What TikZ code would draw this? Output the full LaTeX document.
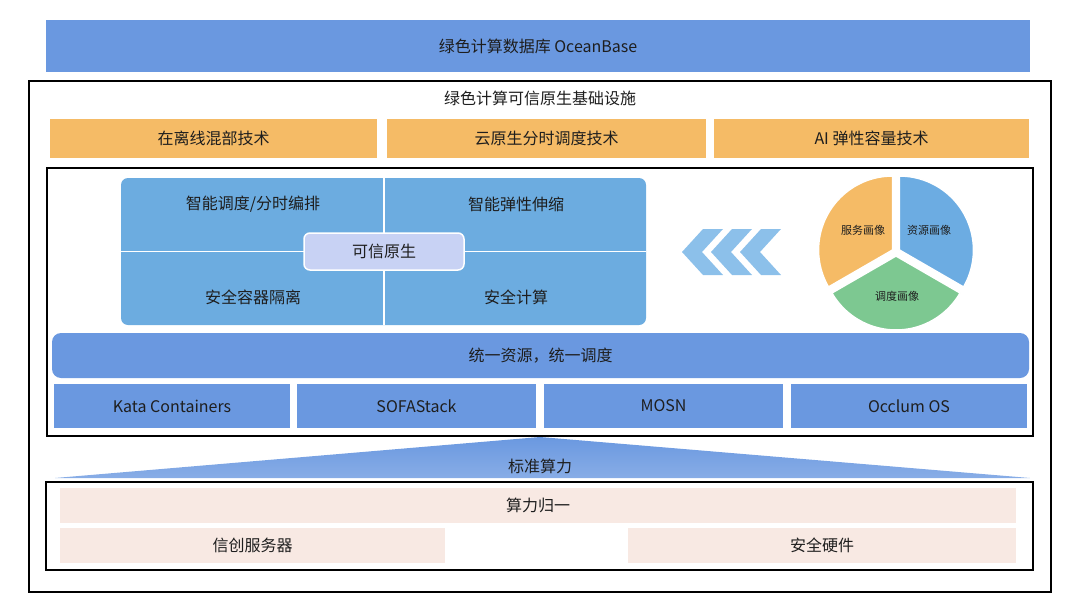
\documentclass[tikz,border=0pt]{standalone}
\usepackage{fontspec}
\setmainfont{Noto Sans CJK SC}
\usetikzlibrary{calc}
\definecolor{obblue}{RGB}{106,152,224}
\definecolor{orng}{RGB}{245,187,102}
\definecolor{gridblue}{RGB}{108,172,224}
\definecolor{lav}{RGB}{200,210,244}
\definecolor{chev}{RGB}{140,192,234}
\definecolor{piebl}{RGB}{108,172,226}
\definecolor{piegr}{RGB}{125,200,145}
\definecolor{pinkbg}{RGB}{248,233,227}
\definecolor{txt}{RGB}{30,30,30}
\tikzset{
  lbl/.style={font=\fontsize{16}{18}\selectfont, text=txt, inner sep=0pt},
  bluebox/.style={lbl, fill=obblue},
  orangebox/.style={lbl, fill=orng},
  pinkbox/.style={lbl, fill=pinkbg},
  frame/.style={draw=black, line width=1.3pt, inner sep=0pt},
  pielbl/.style={font=\fontsize{11}{13}\selectfont, text=txt, inner sep=0pt},
  slice/.style={draw=white, line width=1.5pt, line join=round},
}
\begin{document}
\begin{tikzpicture}[x=1pt,y=1pt]
\useasboundingbox (0,0) rectangle (1080,-616);
% top bar
\node[bluebox, minimum width=984pt, minimum height=52pt] (ob) at (538,-46) {绿色计算数据库 OceanBase};
% outer frame
\node[frame, minimum width=1022pt, minimum height=511pt] (outer) at (540,-336.5) {};
\node[lbl] (title) at (540,-98) {绿色计算可信原生基础设施};
% orange row
\node[orangebox, minimum width=327pt, minimum height=39pt] (o1) at (213.5,-138.5) {在离线混部技术};
\node[orangebox, minimum width=319pt, minimum height=39pt] (o2) at (546.5,-138.5) {云原生分时调度技术};
\node[orangebox, minimum width=315pt, minimum height=39pt] (o3) at (871.5,-138.5) {AI 弹性容量技术};
% inner frame
\node[frame, minimum width=986pt, minimum height=268pt] (inner) at (540,-302) {};
% grid
\node[fill=gridblue, rounded corners=7pt, minimum width=525pt, minimum height=147pt, inner sep=0pt] (grid) at (383.5,-251.5) {};
\draw[white, line width=1.5pt] (grid.west) -- (grid.east);
\draw[white, line width=1.5pt] ($(grid.north)+(0.5,0)$) -- ($(grid.south)+(0.5,0)$);
\node[lbl] (q1) at (253,-204) {智能调度/分时编排};
\node[lbl] (q2) at (516,-204) {智能弹性伸缩};
\node[lbl] (q3) at (253,-297) {安全容器隔离};
\node[lbl] (q4) at (516,-297) {安全计算};
\node[lbl, fill=lav, draw=white, line width=1.5pt, rounded corners=6pt, minimum width=160pt, minimum height=37pt] (kx) at (384,-251.5) {可信原生};
% chevrons
\foreach \x in {682,711,740}
  \fill[chev] (\x,-252) -- (\x+21,-229) -- (\x+41,-229) -- (\x+20,-252) -- (\x+41,-275) -- (\x+21,-275) -- cycle;
% pie
\coordinate (pc) at (896,-252);
\coordinate (co) at ($(pc)+(150:4pt)$);
\coordinate (cb) at ($(pc)+(30:4pt)$);
\coordinate (cg) at ($(pc)+(270:4pt)$);
\filldraw[slice, fill=orng] (co) -- ++(90:74pt) arc[start angle=90, end angle=210, radius=74pt] -- cycle;
\filldraw[slice, fill=piebl] (cb) -- ++(-30:74pt) arc[start angle=-30, end angle=90, radius=74pt] -- cycle;
\filldraw[slice, fill=piegr] (cg) -- ++(210:74pt) arc[start angle=210, end angle=330, radius=74pt] -- cycle;
\node[pielbl] (p1) at (863,-230) {服务画像};
\node[pielbl] (p2) at (929,-230) {资源画像};
\node[pielbl] (p3) at (897,-296) {调度画像};
% unified bar
\node[bluebox, rounded corners=9pt, minimum width=977pt, minimum height=45pt] (uni) at (540.5,-355.5) {统一资源，统一调度};
% four boxes
\node[bluebox, minimum width=236pt, minimum height=44pt] (k1) at (172,-406) {Kata Containers};
\node[bluebox, minimum width=239pt, minimum height=44pt] (k2) at (416.5,-406) {SOFAStack};
\node[bluebox, minimum width=239pt, minimum height=44pt] (k3) at (663.5,-406) {MOSN};
\node[bluebox, minimum width=236pt, minimum height=44pt] (k4) at (909,-406) {Occlum OS};
% triangle
\coordinate (apex) at (540,-437);
\coordinate (tl) at (55,-478);
\coordinate (tr) at (1030,-478);
\shade[top color=obblue, bottom color=obblue!80!white] (apex) -- (tr) -- (tl) -- cycle;
\node[lbl] (std) at (540,-466) {标准算力};
% lower frame
\node[frame, minimum width=987pt, minimum height=88pt] (lower) at (539.5,-526) {};
\node[pinkbox, minimum width=956pt, minimum height=35pt] (sl) at (538,-505.5) {算力归一};
\node[pinkbox, minimum width=385pt, minimum height=35pt] (xc) at (252.5,-545.5) {信创服务器};
\node[pinkbox, minimum width=388pt, minimum height=35pt] (aq) at (822,-545.5) {安全硬件};
\end{tikzpicture}
\end{document}
